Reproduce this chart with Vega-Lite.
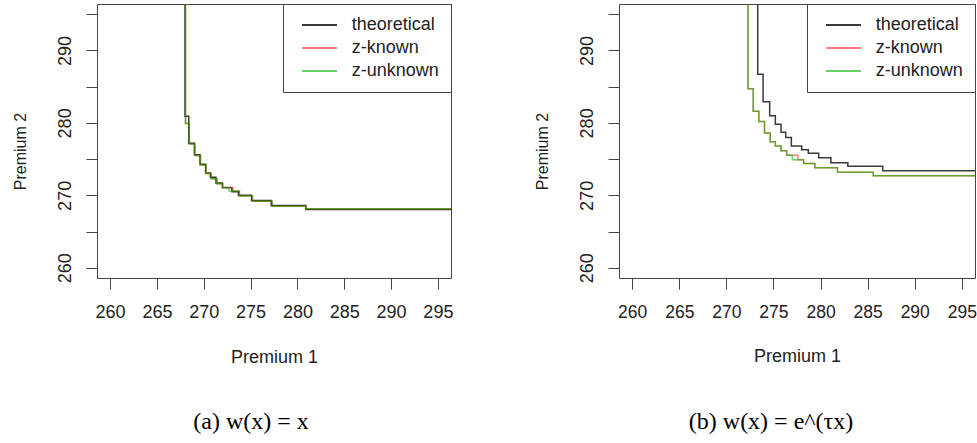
{
  "$schema": "https://vega.github.io/schema/vega-lite/v6.json",
  "padding": {"left": 11, "top": 3, "right": 0, "bottom": 0},
  "background": "white",
  "spacing": 79,
  "config": {
    "font": "Liberation Sans",
    "view": {"stroke": "#444444", "strokeWidth": 1},
    "axis": {"grid": false, "domain": false, "tickColor": "#444444", "tickSize": 11, "labelFont": "Liberation Sans", "titleFont": "Liberation Sans", "labelColor": "#222222", "titleColor": "#222222", "titleFontWeight": "normal"},
    "legend": {"labelFont": "Liberation Sans"}
  },
  "datasets": {
    "a": [
      {"s": "theoretical", "p1": 268.0, "p2": 300},
      {"s": "theoretical", "p1": 268.4, "p2": 280.9},
      {"s": "theoretical", "p1": 269.0, "p2": 277.2},
      {"s": "theoretical", "p1": 269.6, "p2": 275.6},
      {"s": "theoretical", "p1": 270.2, "p2": 274.3},
      {"s": "theoretical", "p1": 270.7, "p2": 273.1},
      {"s": "theoretical", "p1": 271.3, "p2": 272.5},
      {"s": "theoretical", "p1": 272.0, "p2": 271.7},
      {"s": "theoretical", "p1": 273.0, "p2": 271.1},
      {"s": "theoretical", "p1": 273.7, "p2": 270.5},
      {"s": "theoretical", "p1": 275.1, "p2": 270.0},
      {"s": "theoretical", "p1": 277.2, "p2": 269.3},
      {"s": "theoretical", "p1": 280.9, "p2": 268.6},
      {"s": "theoretical", "p1": 300, "p2": 268.05},
      {"s": "z-known", "p1": 268.05, "p2": 300},
      {"s": "z-known", "p1": 268.45, "p2": 279.9},
      {"s": "z-known", "p1": 269.05, "p2": 277.1},
      {"s": "z-known", "p1": 269.65, "p2": 275.5},
      {"s": "z-known", "p1": 270.25, "p2": 274.2},
      {"s": "z-known", "p1": 270.8, "p2": 273.0},
      {"s": "z-known", "p1": 271.4, "p2": 272.3},
      {"s": "z-known", "p1": 272.0, "p2": 271.6},
      {"s": "z-known", "p1": 273.1, "p2": 271.05},
      {"s": "z-known", "p1": 273.8, "p2": 270.6},
      {"s": "z-known", "p1": 275.2, "p2": 269.9},
      {"s": "z-known", "p1": 277.3, "p2": 269.2},
      {"s": "z-known", "p1": 280.9, "p2": 268.5},
      {"s": "z-known", "p1": 300, "p2": 268.15},
      {"s": "z-unknown", "p1": 268.05, "p2": 300},
      {"s": "z-unknown", "p1": 268.45, "p2": 279.9},
      {"s": "z-unknown", "p1": 269.05, "p2": 277.1},
      {"s": "z-unknown", "p1": 269.65, "p2": 275.5},
      {"s": "z-unknown", "p1": 270.25, "p2": 274.2},
      {"s": "z-unknown", "p1": 270.8, "p2": 273.0},
      {"s": "z-unknown", "p1": 271.4, "p2": 272.3},
      {"s": "z-unknown", "p1": 272.0, "p2": 271.6},
      {"s": "z-unknown", "p1": 272.7, "p2": 271.05},
      {"s": "z-unknown", "p1": 273.8, "p2": 270.6},
      {"s": "z-unknown", "p1": 275.2, "p2": 269.9},
      {"s": "z-unknown", "p1": 277.3, "p2": 269.2},
      {"s": "z-unknown", "p1": 280.9, "p2": 268.5},
      {"s": "z-unknown", "p1": 300, "p2": 268.15}
    ],
    "b": [
      {"s": "theoretical", "p1": 273.33, "p2": 300},
      {"s": "theoretical", "p1": 273.9, "p2": 286.7},
      {"s": "theoretical", "p1": 274.6, "p2": 282.9},
      {"s": "theoretical", "p1": 275.2, "p2": 281.0},
      {"s": "theoretical", "p1": 275.8, "p2": 279.8},
      {"s": "theoretical", "p1": 276.3, "p2": 278.7},
      {"s": "theoretical", "p1": 276.9, "p2": 278.0},
      {"s": "theoretical", "p1": 278.0, "p2": 276.8},
      {"s": "theoretical", "p1": 278.7, "p2": 276.3},
      {"s": "theoretical", "p1": 279.8, "p2": 275.8},
      {"s": "theoretical", "p1": 281.1, "p2": 275.2},
      {"s": "theoretical", "p1": 282.9, "p2": 274.5},
      {"s": "theoretical", "p1": 286.6, "p2": 274.0},
      {"s": "theoretical", "p1": 300, "p2": 273.4},
      {"s": "z-known", "p1": 272.3, "p2": 300},
      {"s": "z-known", "p1": 272.85, "p2": 284.7},
      {"s": "z-known", "p1": 273.45, "p2": 281.6},
      {"s": "z-known", "p1": 274.05, "p2": 280.2},
      {"s": "z-known", "p1": 274.65, "p2": 278.6},
      {"s": "z-known", "p1": 275.2, "p2": 277.4},
      {"s": "z-known", "p1": 275.8, "p2": 276.8},
      {"s": "z-known", "p1": 276.4, "p2": 276.15},
      {"s": "z-known", "p1": 277.6, "p2": 275.55},
      {"s": "z-known", "p1": 278.2, "p2": 274.9},
      {"s": "z-known", "p1": 279.4, "p2": 274.4},
      {"s": "z-known", "p1": 281.8, "p2": 273.8},
      {"s": "z-known", "p1": 285.6, "p2": 273.2},
      {"s": "z-known", "p1": 300, "p2": 272.7},
      {"s": "z-unknown", "p1": 272.3, "p2": 300},
      {"s": "z-unknown", "p1": 272.85, "p2": 284.7},
      {"s": "z-unknown", "p1": 273.45, "p2": 281.6},
      {"s": "z-unknown", "p1": 274.05, "p2": 280.2},
      {"s": "z-unknown", "p1": 274.65, "p2": 278.6},
      {"s": "z-unknown", "p1": 275.2, "p2": 277.4},
      {"s": "z-unknown", "p1": 275.8, "p2": 276.8},
      {"s": "z-unknown", "p1": 276.4, "p2": 276.15},
      {"s": "z-unknown", "p1": 277.0, "p2": 275.55},
      {"s": "z-unknown", "p1": 278.2, "p2": 274.9},
      {"s": "z-unknown", "p1": 279.4, "p2": 274.4},
      {"s": "z-unknown", "p1": 281.8, "p2": 273.8},
      {"s": "z-unknown", "p1": 285.6, "p2": 273.2},
      {"s": "z-unknown", "p1": 300, "p2": 272.7}
    ]
  },
  "hconcat": [
    {
      "width": 354,
      "height": 274,
      "data": {"name": "a"},
      "title": {"text": "(a)  w(x) = x", "orient": "bottom", "anchor": "middle", "font": "Liberation Serif", "fontSize": 24, "fontWeight": "normal", "color": "black", "offset": 44, "dx": -23},
      "mark": {"type": "line", "interpolate": "step-before", "clip": true, "strokeWidth": 1.5},
      "encoding": {
        "x": {"field": "p1", "type": "quantitative",
          "scale": {"domain": [258.6, 296.4], "nice": false, "zero": false},
          "axis": {"values": [260, 265, 270, 275, 280, 285, 290, 295], "title": "Premium 1", "labelFontSize": 18, "titleFontSize": 18, "labelPadding": 14, "titlePadding": 27}},
        "y": {"field": "p2", "type": "quantitative",
          "scale": {"domain": [258.6, 296.4], "nice": false, "zero": false},
          "axis": {"values": [260, 265, 270, 275, 280, 285, 290, 295], "labelExpr": "datum.value % 10 == 0 ? datum.label : ''", "labelAngle": 270, "labelAlign": "center", "labelBaseline": "bottom", "title": "Premium 2", "labelFontSize": 18, "titleFontSize": 16, "labelPadding": 12, "titlePadding": 28, "titleY": 147}},
        "color": {"field": "s", "type": "nominal",
          "scale": {"domain": ["theoretical", "z-known", "z-unknown"], "range": ["#3a3a3a", "rgba(255,0,0,0.5)", "rgba(0,185,0,0.6)"]},
          "legend": {"title": null, "orient": "top-right", "offset": 0, "strokeColor": "#444444", "fillColor": "white", "padding": 12, "symbolType": "M-2.92,0H2.92", "symbolSize": 144, "symbolOffset": 15.5, "symbolStrokeWidth": 2, "labelFontSize": 18, "labelOffset": 23.2, "rowPadding": 5, "labelColor": "#222222"}}
      }
    },
    {
      "width": 356,
      "height": 274,
      "data": {"name": "b"},
      "title": {"text": "(b)  w(x) = e^(τx)", "orient": "bottom", "anchor": "middle", "font": "Liberation Serif", "fontSize": 24, "fontWeight": "normal", "color": "black", "offset": 44, "dx": -26},
      "mark": {"type": "line", "interpolate": "step-before", "clip": true, "strokeWidth": 1.5},
      "encoding": {
        "x": {"field": "p1", "type": "quantitative",
          "scale": {"domain": [258.6, 296.4], "nice": false, "zero": false},
          "axis": {"values": [260, 265, 270, 275, 280, 285, 290, 295], "title": "Premium 1", "labelFontSize": 17.5, "titleFontSize": 18, "labelPadding": 14, "titlePadding": 27}},
        "y": {"field": "p2", "type": "quantitative",
          "scale": {"domain": [258.6, 296.4], "nice": false, "zero": false},
          "axis": {"values": [260, 265, 270, 275, 280, 285, 290, 295], "labelExpr": "datum.value % 10 == 0 ? datum.label : ''", "labelAngle": 270, "labelAlign": "center", "labelBaseline": "bottom", "title": "Premium 2", "labelFontSize": 18, "titleFontSize": 16, "labelPadding": 12, "titlePadding": 28, "titleY": 147}},
        "color": {"field": "s", "type": "nominal",
          "scale": {"domain": ["theoretical", "z-known", "z-unknown"], "range": ["#3a3a3a", "rgba(255,0,0,0.5)", "rgba(0,185,0,0.6)"]},
          "legend": {"title": null, "orient": "top-right", "offset": 0, "strokeColor": "#444444", "fillColor": "white", "padding": 12, "symbolType": "M-2.92,0H2.92", "symbolSize": 144, "symbolOffset": 15.5, "symbolStrokeWidth": 2, "labelFontSize": 18, "labelOffset": 23.2, "rowPadding": 5, "labelColor": "#222222"}}
      }
    }
  ],
  "resolve": {"scale": {"color": "independent"}, "legend": {"color": "independent"}}
}
